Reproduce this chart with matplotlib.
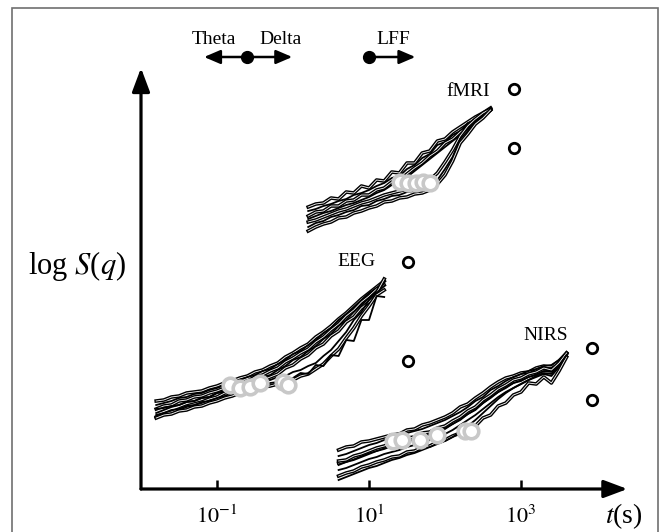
import numpy as np
import matplotlib
matplotlib.use('Agg')
import matplotlib.pyplot as plt
import matplotlib.patheffects as pe
from matplotlib.patches import Rectangle
from matplotlib.ticker import NullLocator

plt.rcParams['font.family'] = ['Liberation Serif', 'DejaVu Serif']
plt.rcParams['mathtext.fontset'] = 'stix'
plt.rcParams['axes.unicode_minus'] = False

# x grids are log10(t / s), y is log S(q) in arbitrary units
eeg_lt = np.linspace(-1.8, 1.2, 31)
fmri_lt = np.linspace(0.2, 2.6, 25)
nirs_lt = np.linspace(0.6, 3.6, 31)

eeg_lines = [
    [8.8, 8.9, 9.2, 9.3, 9.6, 9.7, 9.8, 10.1, 10.3, 10.6, 10.8, 11.1, 11.3, 11.7, 11.9, 12.3,
     12.6, 13.2, 13.6, 14.1, 14.5, 15.2, 15.7, 16.3, 17.0, 17.6, 18.3, 19.0, 19.6, 20.2, 20.8],
    [8.4, 8.6, 8.8, 9.1, 9.2, 9.5, 9.6, 9.9, 10.1, 10.4, 10.6, 10.9, 11.2, 11.4, 11.8, 12.0,
     12.5, 12.9, 13.5, 13.8, 14.4, 14.9, 15.6, 16.1, 16.9, 17.5, 18.2, 18.9, 19.6, 20.1, 20.7],
    [8.0, 8.3, 8.4, 8.8, 8.9, 9.2, 9.3, 9.6, 9.8, 10.1, 10.3, 10.6, 10.8, 11.2, 11.4, 11.8,
     12.1, 12.7, 13.1, 13.6, 14.0, 14.7, 15.2, 15.9, 16.5, 17.3, 17.9, 18.7, 19.3, 20.0, 20.4],
    [7.6, 7.9, 8.2, 8.4, 8.7, 8.8, 9.1, 9.2, 9.6, 9.8, 10.1, 10.3, 10.6, 10.8, 11.2, 11.4,
     11.9, 12.3, 12.9, 13.2, 13.8, 14.3, 15.0, 15.5, 16.3, 16.9, 17.7, 18.4, 19.1, 19.8, 20.6],
    [7.2, 7.5, 7.7, 8.0, 8.3, 8.5, 8.7, 9.0, 9.2, 9.6, 9.8, 10.1, 10.3, 10.6, 10.9, 11.2,
     11.5, 12.1, 12.4, 13.0, 13.4, 14.1, 14.5, 15.3, 15.8, 16.7, 17.2, 18.1, 18.7, 19.6, 21.0],
    [8.0, 8.1, 8.3, 8.4, 8.7, 8.8, 9.1, 9.2, 9.6, 9.7, 10.0, 10.2, 10.5, 10.6, 10.9, 10.9,
     11.2, 11.3, 11.7, 11.9, 12.3, 12.6, 13.3, 13.9, 14.8, 15.7, 16.9, 17.7, 18.9, 19.6, 20.3],
    [7.1, 7.4, 7.5, 7.8, 7.9, 8.2, 8.3, 8.6, 8.8, 9.1, 9.3, 9.6, 9.7, 10.0, 10.2, 10.3,
     10.5, 10.7, 10.9, 11.3, 11.5, 12.0, 12.5, 13.3, 14.0, 15.1, 16.1, 17.3, 18.3, 19.4, 19.9],
    [7.4, 7.6, 7.9, 8.0, 8.3, 8.4, 8.7, 8.8, 9.1, 9.3, 9.6, 9.8, 10.0, 10.3, 10.4, 10.6,
     10.7, 11.0, 11.1, 11.6, 11.5, 12.4, 12.3, 13.4, 13.3, 14.9, 14.8, 16.9, 16.9, 19.3, 19.2],
]

fmri_lines = [
    [28.2, 28.5, 28.6, 29.1, 29.0, 29.7, 29.6, 30.3, 30.1, 30.9, 30.8, 31.7, 31.6, 32.6, 32.6,
     33.6, 33.8, 34.8, 35.0, 35.7, 36.2, 36.7, 37.2, 37.6, 38.1],
    [27.8, 28.0, 28.3, 28.5, 28.8, 29.0, 29.4, 29.6, 29.9, 30.3, 30.6, 31.1, 31.3, 32.0, 32.4,
     33.1, 33.5, 34.4, 34.7, 35.4, 35.8, 36.6, 36.9, 37.6, 38.0],
    [27.3, 27.7, 27.8, 28.3, 28.3, 28.8, 28.9, 29.4, 29.4, 29.9, 30.1, 30.7, 30.9, 31.5, 32.1,
     32.6, 33.3, 33.8, 34.6, 35.0, 35.7, 36.2, 36.9, 37.3, 37.9],
    [27.0, 27.3, 27.6, 27.8, 28.1, 28.4, 28.6, 28.9, 29.2, 29.6, 29.9, 30.4, 30.7, 31.2, 31.8,
     32.4, 33.0, 33.6, 34.2, 34.8, 35.4, 36.0, 36.7, 37.4, 37.8],
    [26.7, 26.9, 27.2, 27.5, 27.8, 28.0, 28.3, 28.6, 28.8, 29.1, 29.4, 29.6, 29.8, 30.0, 30.2,
     30.4, 30.9, 31.6, 32.7, 33.9, 35.3, 36.3, 37.0, 37.6, 38.0],
    [26.2, 26.6, 26.8, 27.2, 27.4, 27.7, 27.9, 28.3, 28.4, 28.8, 29.0, 29.3, 29.4, 29.7, 29.8,
     30.0, 30.3, 30.9, 32.0, 33.2, 35.0, 35.8, 36.8, 37.3, 38.0],
    [25.8, 26.2, 26.5, 26.7, 27.1, 27.2, 27.6, 27.8, 28.1, 28.3, 28.7, 28.8, 29.1, 29.2, 29.5,
     29.6, 29.9, 30.5, 31.4, 32.8, 34.6, 35.5, 36.5, 37.1, 37.9],
]

nirs_lines = [
    [3.9, 4.2, 4.3, 4.7, 4.8, 5.0, 5.2, 5.4, 5.5, 5.9, 6.0, 6.4, 6.6, 6.9, 7.2, 7.6,
     8.2, 8.5, 9.1, 9.6, 10.2, 10.7, 11.1, 11.3, 11.6, 11.7, 12.1, 12.3, 12.2, 12.8, 13.6],
    [3.3, 3.5, 3.8, 4.1, 4.4, 4.6, 4.9, 5.0, 5.3, 5.6, 5.8, 6.0, 6.3, 6.6, 6.9, 7.3,
     7.7, 8.2, 8.8, 9.2, 9.9, 10.3, 10.8, 11.2, 11.5, 11.8, 12.0, 12.3, 12.4, 12.9, 13.5],
    [2.6, 2.8, 3.1, 3.4, 3.7, 3.9, 4.2, 4.4, 4.6, 4.9, 5.1, 5.4, 5.6, 5.9, 6.2, 6.6,
     7.1, 7.6, 8.1, 8.7, 9.3, 9.8, 10.3, 10.7, 11.0, 11.3, 11.6, 11.9, 12.0, 12.5, 13.5],
    [2.4, 2.7, 2.9, 3.2, 3.5, 3.8, 4.0, 4.3, 4.5, 4.7, 5.0, 5.2, 5.5, 5.7, 6.0, 6.5,
     6.9, 7.5, 7.9, 8.6, 9.1, 9.7, 10.1, 10.6, 10.8, 11.2, 11.4, 11.8, 11.7, 12.4, 13.4],
    [2.8, 2.9, 3.3, 3.5, 3.8, 4.1, 4.3, 4.6, 4.7, 5.1, 5.2, 5.6, 5.7, 6.1, 6.3, 6.8,
     7.2, 7.8, 8.2, 8.9, 9.4, 10.0, 10.4, 10.9, 11.1, 11.5, 11.7, 12.1, 11.9, 12.6, 13.6],
    [1.9, 2.1, 2.4, 2.7, 3.0, 3.2, 3.5, 3.7, 3.9, 4.2, 4.4, 4.7, 4.9, 5.2, 5.5, 5.9,
     6.4, 6.9, 7.4, 8.0, 8.6, 9.2, 9.7, 10.1, 10.5, 10.9, 11.2, 11.5, 11.3, 12.2, 13.3],
    [1.3, 1.6, 1.8, 2.2, 2.4, 2.7, 2.9, 3.2, 3.3, 3.7, 3.8, 4.2, 4.3, 4.7, 4.9, 5.3,
     5.6, 6.2, 6.3, 7.1, 7.4, 8.3, 8.6, 9.4, 9.7, 10.6, 10.5, 11.2, 10.6, 11.8, 13.2],
    [0.9, 1.2, 1.5, 1.8, 2.1, 2.3, 2.6, 2.9, 3.1, 3.4, 3.6, 3.9, 4.2, 4.5, 4.8, 5.2,
     5.7, 6.3, 6.9, 7.6, 8.3, 9.0, 9.6, 10.1, 10.5, 10.9, 11.3, 11.6, 11.5, 12.3, 13.4],
]

# grey crossover circles
eeg_cross_lt = [-0.83, -0.70, -0.57, -0.43, -0.13, -0.07]
eeg_cross_y = [10.4, 10.1, 10.2, 10.6, 10.7, 10.4]
fmri_cross_lt = [1.41, 1.51, 1.62, 1.71, 1.80]
fmri_cross_y = [30.7, 30.6, 30.6, 30.7, 30.6]
nirs_cross_lt = [1.32, 1.43, 1.67, 1.89, 2.26, 2.34]
nirs_cross_y = [4.8, 4.9, 4.9, 5.4, 5.8, 5.8]

# black open circles next to each bundle
open_lt = [2.91, 2.91, 1.51, 1.51, 3.93, 3.93]
open_y = [40.0, 34.1, 22.7, 12.8, 14.1, 8.9]

fig = plt.figure(figsize=(6.67, 5.32), dpi=100)
ax = fig.add_axes([141 / 667, 43 / 532, 526 / 667, 489 / 532])
ax.set_xscale('log')
ax.set_xlim(10 ** -2.0, 10 ** 4.921)
ax.set_ylim(0, 48.9)
for s in ax.spines.values():
    s.set_visible(False)
ax.patch.set_visible(False)

outline = [pe.Stroke(linewidth=2.6, foreground='black'), pe.Normal()]
for lt, lines in [(eeg_lt, eeg_lines), (fmri_lt, fmri_lines), (nirs_lt, nirs_lines)]:
    for i, y in enumerate(lines):
        if i % 2 == 0:
            ax.plot(10 ** lt, y, color='white', lw=0.6, path_effects=outline, zorder=2)
        else:
            ax.plot(10 ** lt, y, color='black', lw=1.3, zorder=2)

for lt, y in [(eeg_cross_lt, eeg_cross_y), (fmri_cross_lt, fmri_cross_y), (nirs_cross_lt, nirs_cross_y)]:
    ax.plot(10 ** np.array(lt), y, 'o', ms=10.5, mfc='white', mec='#c8c8c8', mew=2.6, zorder=4)

ax.plot(10 ** np.array(open_lt), open_y, 'o', ms=7.5, mfc='white', mec='black', mew=2.0,
        zorder=4, clip_on=False)

ax.text(10 ** 2.59, 39.8, 'fMRI', ha='right', va='center', fontsize=14)
ax.text(10 ** 1.08, 22.7, 'EEG', ha='right', va='center', fontsize=14)
ax.text(10 ** 3.62, 15.4, 'NIRS', ha='right', va='center', fontsize=14)

# main axes arrows
big = dict(arrowstyle='-|>,head_length=0.8,head_width=0.3', lw=2.3, color='black',
           mutation_scale=18, shrinkA=0, shrinkB=0)
ax.annotate('', xy=(10 ** 4.4, 0), xytext=(10 ** -2.0, 0), arrowprops=big, annotation_clip=False)
ax.annotate('', xy=(10 ** -2.0, 42.1), xytext=(10 ** -2.0, 0), arrowprops=big, annotation_clip=False)

# frequency band markers
small = dict(arrowstyle='-|>,head_length=0.7,head_width=0.3', lw=1.8, color='black',
             mutation_scale=14, shrinkA=0, shrinkB=0)
ax.annotate('', xy=(10 ** -1.17, 43.2), xytext=(10 ** -0.6, 43.2), arrowprops=small, annotation_clip=False)
ax.annotate('', xy=(10 ** -0.01, 43.2), xytext=(10 ** -0.6, 43.2), arrowprops=small, annotation_clip=False)
ax.annotate('', xy=(10 ** 1.61, 43.2), xytext=(10 ** 1.0, 43.2), arrowprops=small, annotation_clip=False)
ax.plot([10 ** -0.6, 10 ** 1.0], [43.2, 43.2], 'o', ms=8.5, color='black', zorder=5, clip_on=False)
ax.text(10 ** -1.04, 45.0, 'Theta', ha='center', va='center', fontsize=14)
ax.text(10 ** -0.17, 45.0, 'Delta', ha='center', va='center', fontsize=14)
ax.text(10 ** 1.32, 45.0, 'LFF', ha='center', va='center', fontsize=14)

ax.set_xticks([0.1, 10, 1000])
ax.set_xticklabels([r'$10^{-1}$', r'$10^{1}$', r'$10^{3}$'])
ax.xaxis.set_minor_locator(NullLocator())
ax.set_yticks([])
ax.tick_params(axis='x', direction='in', length=6.5, width=1.8, labelsize=16, pad=12)

fig.text(77 / 667, 1 - 266 / 532, r'log $S$($q$)', ha='center', va='center', fontsize=22)
fig.text(624 / 667, 1 - 516 / 532, r'$t$(s)', ha='center', va='center', fontsize=20)

fig.add_artist(Rectangle((12 / 667, -0.1), 646 / 667, 1.085, transform=fig.transFigure,
                         fill=False, ec='#707070', lw=1.2))

fig.savefig('out.png', dpi=100)
